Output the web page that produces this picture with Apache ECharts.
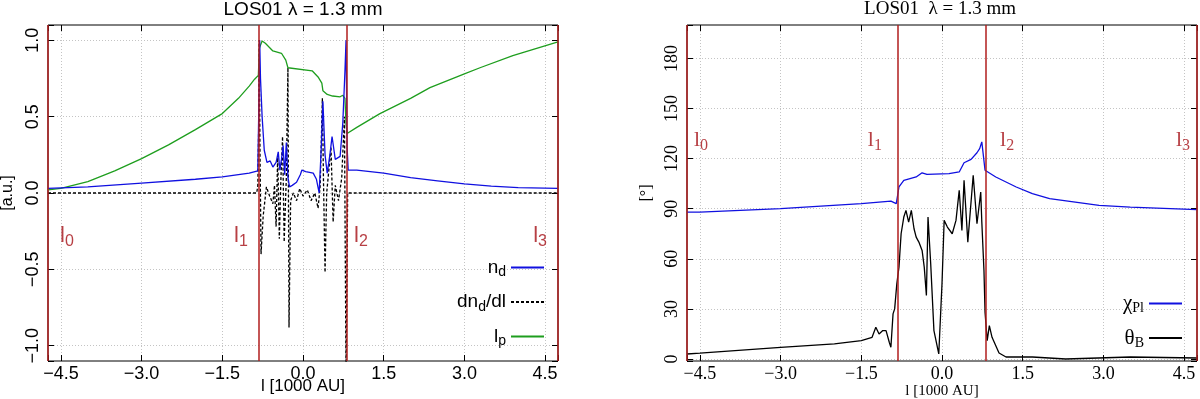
<!DOCTYPE html>
<html>
<head>
<meta charset="utf-8">
<script src="https://cdn.jsdelivr.net/npm/echarts@6/dist/echarts.min.js"></script>
<style>
html, body { margin: 0; padding: 0; background: #fff; }
#main { width: 1200px; height: 399px; }
</style>
</head>
<body>
<div id="main"></div>
<script>
// LOS01 profiles, lambda = 1.3 mm
var chart = echarts.init(document.getElementById('main'));

var xMin = -4.74, xMax = 4.74;
var lBounds = [-4.74, -0.82, 0.82, 4.74];

// left panel [a.u.]
var nd = [[-4.74,0.03],[-4.0,0.04],[-3.0,0.065],[-2.0,0.09],[-1.5,0.105],[-1.0,0.13],[-0.84,0.145],[-0.825,0.15],
  [-0.815,0.7],[-0.805,1.0],[-0.79,0.75],[-0.76,0.5],[-0.72,0.28],[-0.67,0.2],[-0.61,0.21],[-0.56,0.17],[-0.50,0.2],
  [-0.46,0.27],[-0.43,0.15],[-0.40,0.22],[-0.37,0.31],[-0.34,0.12],[-0.31,0.33],[-0.28,0.1],[-0.25,0.04],[-0.2,0.05],
  [-0.12,0.07],[-0.05,0.12],[-0.02,0.15],[0.05,0.14],[0.19,0.13],[0.25,0.09],[0.30,0.0],[0.34,0.3],[0.37,0.6],
  [0.41,0.25],[0.45,0.13],[0.50,0.25],[0.54,0.37],[0.60,0.22],[0.69,0.24],[0.74,0.46],[0.78,0.8],[0.80,1.0],
  [0.82,0.3],[0.84,0.15],[1.0,0.15],[1.5,0.13],[2.0,0.1],[2.5,0.08],[3.0,0.06],[3.5,0.045],[4.0,0.035],[4.74,0.03]];
var dndl = [[-4.74,0],[-0.86,0],[-0.84,0.05],[-0.825,0.4],[-0.815,1.0],[-0.80,0.3],[-0.78,-0.4],[-0.74,-0.15],
  [-0.68,0.04],[-0.62,-0.02],[-0.56,-0.07],[-0.53,0.05],[-0.50,-0.22],[-0.47,0.25],[-0.44,-0.3],[-0.41,0.1],
  [-0.38,0.37],[-0.35,-0.32],[-0.31,0.1],[-0.28,0.82],[-0.26,-0.88],[-0.23,-0.05],[-0.18,0.0],[-0.12,-0.05],
  [-0.06,0.03],[0.0,-0.02],[0.08,0.02],[0.15,-0.05],[0.22,0.0],[0.28,-0.1],[0.32,0.05],[0.36,0.62],[0.38,0.1],
  [0.41,-0.52],[0.44,0.0],[0.48,0.15],[0.52,0.3],[0.56,-0.19],[0.60,0.05],[0.66,-0.05],[0.72,0.1],[0.77,0.5],
  [0.80,-1.2],[0.815,-1.2],[0.83,0],[4.74,0]];
var lp = [[-4.74,0.02],[-4.5,0.03],[-4.0,0.075],[-3.5,0.145],[-3.0,0.225],[-2.5,0.315],[-2.0,0.415],[-1.5,0.52],
  [-1.2,0.62],[-1.0,0.7],[-0.9,0.745],[-0.83,0.77],[-0.81,0.95],[-0.76,0.995],[-0.70,0.98],[-0.56,0.93],[-0.40,0.915],
  [-0.32,0.87],[-0.28,0.82],[-0.26,0.81],[0.17,0.80],[0.28,0.76],[0.35,0.72],[0.37,0.67],[0.45,0.645],[0.55,0.635],
  [0.69,0.63],[0.74,0.64],[0.78,0.62],[0.80,0.45],[0.82,0.39],[1.0,0.43],[1.43,0.52],[2.0,0.62],[2.36,0.69],
  [3.0,0.78],[3.29,0.82],[3.9,0.9],[4.74,0.99]];

// right panel [deg]
var chiPl = [[-4.74,88],[-4.5,88],[-3.0,90],[-1.5,93],[-0.95,94.5],[-0.85,93],[-0.80,103],[-0.71,107],[-0.48,109],
  [-0.37,111.5],[-0.28,110.5],[0.13,111],[0.32,112],[0.41,117.5],[0.54,119.5],[0.65,123.5],[0.70,126],[0.74,130],
  [0.80,113],[1.0,109],[1.38,103],[1.68,99],[2.0,96],[2.92,92],[3.5,91],[4.74,89.5]];
var thetaB = [[-4.74,3],[-4.5,3.5],[-3.0,7],[-2.0,9],[-1.5,11],[-1.3,13],[-1.23,19],[-1.17,15],[-1.10,17],[-1.04,17],
  [-0.98,10],[-0.95,7],[-0.91,27],[-0.88,30],[-0.84,45],[-0.80,55],[-0.76,75],[-0.71,85],[-0.67,89],[-0.62,82],
  [-0.57,89],[-0.52,78],[-0.48,73],[-0.43,70],[-0.37,65],[-0.33,55],[-0.29,38],[-0.26,85],[-0.21,57],[-0.15,17],
  [-0.06,3],[0.0,45],[0.04,83],[0.10,79],[0.19,75],[0.26,83],[0.32,101],[0.37,77],[0.41,107],[0.48,70],[0.58,110],
  [0.65,81],[0.72,100],[0.74,82],[0.78,53],[0.80,28],[0.84,11],[0.88,20],[0.93,13],[1.06,3.6],[1.19,1.2],[1.68,1.2],
  [2.3,0],[3.5,1.2],[4.74,0.6]];

var SANS = 'Liberation Sans', SERIF = 'Liberation Serif';
var RED = '#b01e1e';
var GRIDLINE = { show: true, showMinLine: false, showMaxLine: false, lineStyle: { color: '#c4c4c4', type: [1, 2] } };

function minus(s) { return s.replace('-', '\u2212'); }
function onStep(v, step) { return Math.abs(v / step - Math.round(v / step)) < 1e-6; }

function xAxes(grid, font, nameSize, nameGap) {
  var base = {
    gridIndex: grid, type: 'value', min: xMin, max: xMax, splitNumber: 6, minInterval: 1.5, maxInterval: 1.5,
    axisLine: { show: false, onZero: false },
    axisTick: { inside: true, length: 6, lineStyle: { color: '#000' } }
  };
  return [
    Object.assign({}, base, {
      position: 'bottom',
      name: 'l [1000 AU]', nameLocation: 'middle', nameGap: nameGap, nameMoveOverlap: false,
      nameTextStyle: { fontFamily: font, fontSize: nameSize, color: '#000', verticalAlign: 'top' },
      axisLabel: { fontFamily: font, fontSize: 18, color: '#000', margin: 4,
        formatter: function (v) { return onStep(v, 1.5) ? minus(v.toFixed(1)) : ''; } },
      splitLine: GRIDLINE
    }),
    Object.assign({}, base, { position: 'top', axisLabel: { show: false }, splitLine: { show: false } })
  ];
}

function yAxes(grid, font, min, max, step, name, fmt, gap) {
  var base = {
    gridIndex: grid, type: 'value', min: min, max: max, minInterval: step, maxInterval: step, splitNumber: 5,
    axisLine: { show: false, onZero: false },
    axisTick: { inside: true, length: 6, lineStyle: { color: '#000' } }
  };
  return [
    Object.assign({}, base, {
      position: 'left',
      name: name, nameLocation: 'middle', nameRotate: 90, nameGap: gap, nameMoveOverlap: false,
      nameTextStyle: { fontFamily: font, fontSize: 16, color: '#000' },
      axisLabel: { fontFamily: font, fontSize: 18, color: '#000', rotate: 90, margin: 6,
        formatter: function (v) { return onStep(v, step) && v >= min && v <= max ? fmt(v) : ''; } },
      splitLine: GRIDLINE
    }),
    Object.assign({}, base, { position: 'right', axisLabel: { show: false }, splitLine: { show: false } })
  ];
}

function lineSeries(name, data, xi, yi, color, dash) {
  return {
    name: name, type: 'line', data: data, xAxisIndex: xi, yAxisIndex: yi,
    symbol: 'none', showSymbol: false, animation: false,
    lineStyle: { color: color, width: 1.3, type: dash || 'solid' },
    itemStyle: { color: color }
  };
}

function boundSeries(xi, yi, yv, font, size, dists) {
  return {
    type: 'scatter', xAxisIndex: xi, yAxisIndex: yi, symbolSize: 0, silent: true, animation: false,
    data: lBounds.map(function (v, i) {
      return { value: [v, yv], label: { position: i % 2 ? 'left' : 'right', distance: dists[i],
        formatter: '{l|l}{s|' + i + '}' } };
    }),
    label: { show: true, rich: {
      l: { fontFamily: font, fontSize: size, color: '#a50f15' },
      s: { fontFamily: font, fontSize: Math.round(size * 0.72), color: '#a50f15', padding: [12, 0, 0, 0] }
    } },
    markLine: { silent: true, symbol: 'none', animation: false, label: { show: false },
      lineStyle: { color: RED, width: 1.5, type: 'solid' },
      data: lBounds.map(function (v) { return { xAxis: v }; }) }
  };
}

var leftNames = { 'n_d': '{m|n}{s|d}', 'dn_d/dl': '{m|dn}{s|d}{m|/dl}', 'l_p': '{m|l}{s|p}' };
var rightNames = { 'chi_Pl': '{m|\u03c7}{s|Pl}', 'theta_B': '{m|\u03b8}{s|B}' };

option = {
  animation: false,
  title: [
    { text: 'LOS01 \u03bb = 1.3 mm', left: 303, textAlign: 'center', top: 0, padding: 0,
      textStyle: { fontFamily: SANS, fontSize: 19, fontWeight: 'normal', color: '#000' } },
    { text: 'LOS01  \u03bb = 1.3 mm', left: 940, textAlign: 'center', top: 0, padding: 0,
      textStyle: { fontFamily: SERIF, fontSize: 19, fontWeight: 'normal', color: '#000' } }
  ],
  grid: [
    { left: 48, right: 642, top: 25, bottom: 38, outerBoundsMode: 'none', containLabel: false,
      show: true, borderColor: '#000', borderWidth: 1 },
    { left: 687, right: 3, top: 25, bottom: 38, outerBoundsMode: 'none', containLabel: false,
      show: true, borderColor: '#000', borderWidth: 1 }
  ],
  legend: [
    { data: ['n_d', 'dn_d/dl', 'l_p'], orient: 'vertical', align: 'right', right: 655, top: 258,
      padding: 0, itemGap: 13, itemWidth: 33, itemHeight: 2,
      itemStyle: { opacity: 0 },
      formatter: function (n) { return leftNames[n]; },
      textStyle: { rich: {
        m: { fontFamily: SANS, fontSize: 19, color: '#000' },
        s: { fontFamily: SANS, fontSize: 14, color: '#000', padding: [10, 0, 0, 0] } } } },
    { data: ['chi_Pl', 'theta_B'], orient: 'vertical', align: 'right', right: 17, top: 293,
      padding: 0, itemGap: 12, itemWidth: 33, itemHeight: 2,
      itemStyle: { opacity: 0 },
      formatter: function (n) { return rightNames[n]; },
      textStyle: { rich: {
        m: { fontFamily: SERIF, fontSize: 21, color: '#000' },
        s: { fontFamily: SERIF, fontSize: 14, color: '#000', padding: [10, 0, 0, 0] } } } }
  ],
  xAxis: xAxes(0, SANS, 17, 17).concat(xAxes(1, SERIF, 15, 23)),
  yAxis: yAxes(0, SANS, -1.1, 1.1, 0.5, '[a.u.]', function (v) { return minus(v.toFixed(1)); }, 32)
    .concat(yAxes(1, SERIF, -1.2, 200, 30, '[\u00b0]', function (v) { return String(Math.round(v)); }, 32)),
  series: [
    boundSeries(0, 0, -0.28, SANS, 22, [12, 11, 7, 11]),
    lineSeries('dn_d/dl', dndl, 0, 0, '#000', [3, 2]),
    lineSeries('l_p', lp, 0, 0, '#1e9e1e'),
    lineSeries('n_d', nd, 0, 0, '#1010e0'),
    boundSeries(2, 2, 131, SERIF, 22, [7, 16, 14, 7]),
    lineSeries('theta_B', thetaB, 2, 2, '#000'),
    lineSeries('chi_Pl', chiPl, 2, 2, '#1010e0')
  ]
};

chart.setOption(option);
</script>
</body>
</html>
